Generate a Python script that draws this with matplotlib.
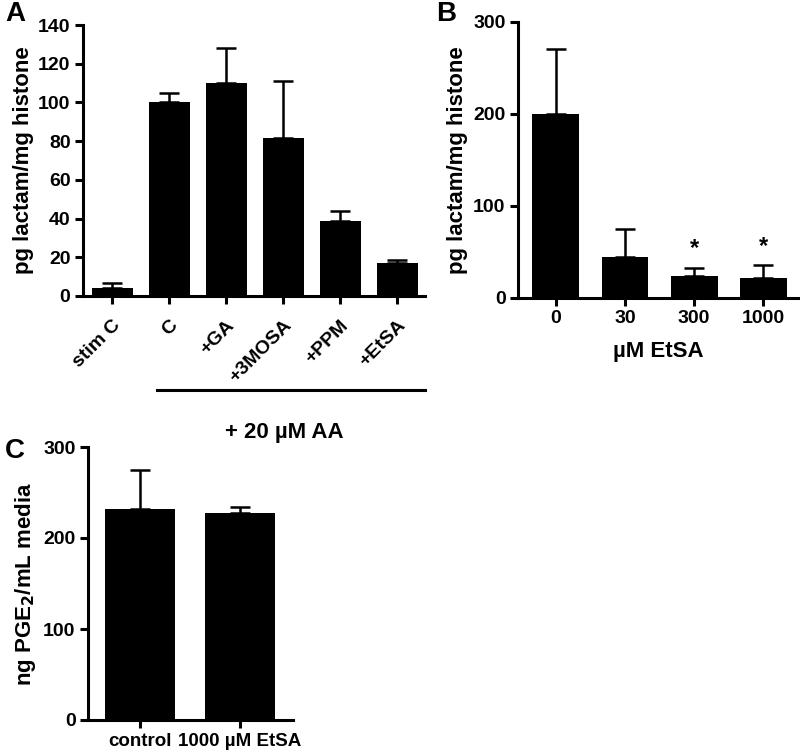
import numpy as np
import matplotlib
matplotlib.use("Agg")
from matplotlib import pyplot as plt

plt.rcParams['font.family'] = ['Liberation Sans', 'DejaVu Sans']
plt.rcParams['font.weight'] = 'bold'

# パネルA
a_labels = ['stim C', 'C', '+GA', '+3MOSA', '+PPM', '+EtSA']
a_mean = [4, 100, 110, 81.5, 39, 17]
a_err = [2.5, 5, 18, 29.5, 5, 1.5]

# パネルB
b_labels = ['0', '30', '300', '1000']
b_mean = [200, 45, 24, 22]
b_err = [71, 30, 9, 14]
b_star = [False, False, True, True]

# パネルC
c_labels = ['control', '1000 µM EtSA']
c_mean = [232, 227]
c_err = [43, 7]

W, H = 800, 752
fig = plt.figure(figsize=(W / 100, H / 100), dpi=100)

TICK = 14
LAB = 16


def px_axes(left, right, top, bottom):
    return fig.add_axes([left / W, 1 - bottom / H, (right - left) / W, (bottom - top) / H])


def style(ax):
    for s in ['top', 'right']:
        ax.spines[s].set_visible(False)
    for s in ['left', 'bottom']:
        ax.spines[s].set_linewidth(2.2)
    ax.tick_params(width=2.2, length=6, labelsize=TICK, direction='out', pad=3)
    for t in ax.get_yticklabels() + ax.get_xticklabels():
        t.set_fontweight('bold')


def bars(ax, mean, err, width):
    x = np.arange(len(mean))
    ax.bar(x, mean, width=width, color='black', zorder=2)
    ax.errorbar(x, mean, yerr=[np.zeros(len(err)), err], fmt='none', ecolor='black',
                elinewidth=1.8, capsize=7.5, capthick=1.8, zorder=1)
    return x


# A
axA = px_axes(83, 425, 25, 296)
x = bars(axA, a_mean, a_err, 0.72)
axA.set_xlim(-0.51, 5.49)
axA.set_ylim(0, 140)
axA.set_yticks(np.arange(0, 141, 20))
axA.set_xticks(x)
axA.set_xticklabels(a_labels, rotation=45, ha='right', rotation_mode='anchor')
axA.set_ylabel('pg lactam/mg histone', fontsize=LAB, fontweight='bold', labelpad=3)
style(axA)
axA.tick_params(axis='x', pad=9)
fig.add_artist(plt.Line2D([157 / W, 425 / W], [1 - 390 / H, 1 - 390 / H], color='black', lw=2.2))
fig.text(284 / W, 1 - 432 / H, '+ 20 µM AA', ha='center', va='center', fontsize=LAB, fontweight='bold')

# B
axB = px_axes(518, 799, 22, 298)
x = bars(axB, b_mean, b_err, 0.68)
axB.set_xlim(-0.55, 3.52)
axB.set_ylim(0, 300)
axB.set_yticks([0, 100, 200, 300])
axB.set_xticks(x)
axB.set_xticklabels(b_labels)
axB.set_xlabel('µM EtSA', fontsize=LAB, fontweight='bold', labelpad=10)
axB.set_ylabel('pg lactam/mg histone', fontsize=LAB, fontweight='bold', labelpad=4)
for i in range(len(b_mean)):
    if b_star[i]:
        axB.text(x[i], b_mean[i] + b_err[i] + 8, '*', ha='center', va='bottom', fontsize=17, fontweight='bold')
style(axB)

# C
axC = px_axes(88, 293, 447, 720)
x = bars(axC, c_mean, c_err, 0.7)
axC.set_xlim(-0.52, 1.53)
axC.set_ylim(0, 300)
axC.set_yticks([0, 100, 200, 300])
axC.set_xticks(x)
axC.set_xticklabels(c_labels)
axC.get_xticklabels()[1].set_x(x[1] + 0.04)
axC.tick_params(axis='x', labelsize=13.5)
axC.set_ylabel('ng PGE$_\\mathbf{2}$/mL media', fontsize=LAB, fontweight='bold', labelpad=4)
style(axC)
axC.tick_params(axis='x', labelsize=13.5)

# パネル記号
fig.text(5 / W, 1 - 14 / H, 'A', fontsize=20, fontweight='bold', va='center')
fig.text(436 / W, 1 - 14 / H, 'B', fontsize=20, fontweight='bold', va='center')
fig.text(5 / W, 1 - 451 / H, 'C', fontsize=20, fontweight='bold', va='center')

fig.savefig('out.png', dpi=100)
